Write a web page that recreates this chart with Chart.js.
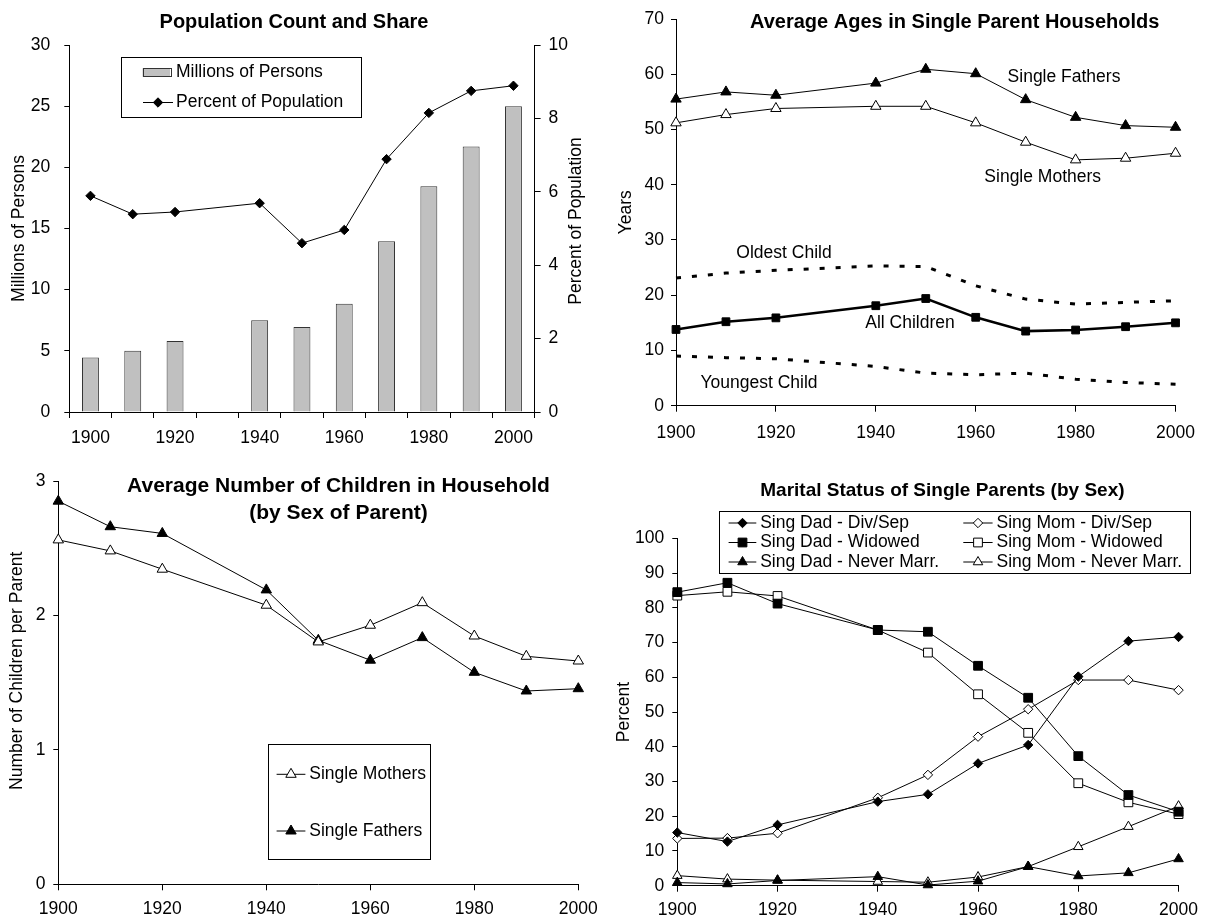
<!DOCTYPE html>
<html><head><meta charset="utf-8">
<script src="https://cdn.jsdelivr.net/npm/chart.js@4.4.1/dist/chart.umd.min.js"></script>
<style>
html,body{margin:0;padding:0;background:#fff;}
body{width:1206px;height:922px;position:relative;overflow:hidden;}
canvas{position:absolute;}
</style></head><body>
<canvas id="c1" width="600" height="460" style="left:0;top:0"></canvas>
<canvas id="c2" width="606" height="460" style="left:600px;top:0"></canvas>
<canvas id="c3" width="620" height="462" style="left:0;top:460px"></canvas>
<canvas id="c4" width="606" height="462" style="left:600px;top:460px"></canvas>
<script>
// ---------- DATA ----------
const popYears = ['1900','1910','1920','1930','1940','1950','1960','1970','1980','1990','2000'];
const popMillions = [4.45, 5.0, 5.8, null, 7.5, 6.95, 8.85, 13.95, 18.45, 21.7, 25.0];
const popPercent  = [5.89, 5.39, 5.45, null, 5.69, 4.6, 4.96, 6.89, 8.15, 8.75, 8.89];

const years = [1900, 1910, 1920, 1940, 1950, 1960, 1970, 1980, 1990, 2000];
const yearTicks = [1900, 1920, 1940, 1960, 1980, 2000];

const ageFathers  = [55.5, 56.8, 56.2, 58.4, 60.9, 60.1, 55.4, 52.2, 50.7, 50.4];
const ageMothers  = [51.2, 52.7, 53.8, 54.2, 54.2, 51.2, 47.7, 44.5, 44.8, 45.7];
const ageOldest   = [23.1, 24.0, 24.5, 25.3, 25.2, 21.7, 19.3, 18.4, 18.7, 19.0];
const ageAll      = [13.8, 15.2, 15.9, 18.1, 19.4, 16.0, 13.5, 13.7, 14.3, 15.0];
const ageYoungest = [9.0, 8.7, 8.5, 7.1, 5.9, 5.6, 5.9, 4.8, 4.2, 3.9];

const kidsMothers = [2.562, 2.48, 2.344, 2.076, 1.803, 1.927, 2.095, 1.847, 1.696, 1.661];
const kidsFathers = [2.85, 2.66, 2.61, 2.19, 1.815, 1.667, 1.835, 1.577, 1.438, 1.455];

const dadDivSep   = [15.3, 12.7, 17.5, 24.2, 26.3, 35.2, 40.5, 60.2, 70.4, 71.6];
const momDivSep   = [13.6, 13.7, 15.1, 25.3, 31.9, 42.9, 50.8, 59.2, 59.2, 56.3];
const dadWidowed  = [84.5, 87.2, 81.2, 73.6, 73.1, 63.3, 54.1, 37.3, 26.1, 21.3];
const momWidowed  = [83.5, 84.6, 83.4, 73.6, 67.1, 55.1, 44.0, 29.5, 24.0, 20.6];
const dadNever    = [0.9, 0.5, 1.5, 2.6, 0.2, 1.3, 5.5, 2.8, 3.7, 7.7];
const momNever    = [2.9, 1.9, 1.6, 1.2, 1.0, 2.5, 5.5, 11.2, 17.0, 22.9];

// ---------- STYLE ----------
const FONT = "'Liberation Sans', Arial, Helvetica, sans-serif";
const TXT = 17.5;
Chart.defaults.font.family = FONT;
Chart.defaults.font.size = TXT;
Chart.defaults.color = '#000';
Chart.defaults.animation = false;
Chart.defaults.plugins.legend.display = false;
Chart.defaults.plugins.tooltip.enabled = false;

const pts = vals => years.map((y, i) => ({x: y, y: vals[i]}));

function textPlugin(items) {
  return { id: 'texts', afterDraw(chart) {
    const ctx = chart.ctx;
    items.forEach(t => {
      ctx.save();
      ctx.fillStyle = '#000'; ctx.textBaseline = 'middle';
      ctx.font = (t.bold ? 'bold ' : '') + t.size + 'px ' + FONT;
      ctx.textAlign = t.align || 'center';
      ctx.translate(t.x, t.y);
      if (t.rotate) ctx.rotate(t.rotate);
      ctx.fillText(t.text, 0, 0);
      ctx.restore();
    });
  }};
}

function legendPlugin(box, entries) {
  return { id: 'customLegend', afterDraw(chart) {
    const ctx = chart.ctx; ctx.save();
    ctx.fillStyle = '#fff';
    ctx.fillRect(box.x0, box.y0, box.x1 - box.x0, box.y1 - box.y0);
    ctx.strokeStyle = '#000'; ctx.lineWidth = 1;
    ctx.strokeRect(Math.round(box.x0) + 0.5, Math.round(box.y0) + 0.5, Math.round(box.x1 - box.x0), Math.round(box.y1 - box.y0));
    entries.forEach(e => {
      const ds = chart.data.datasets[e.ds];
      if (e.swatch) {
        ctx.fillStyle = ds.backgroundColor;
        ctx.fillRect(e.lx0, e.y - 4.25, e.lx1 - e.lx0, 8.5);
        ctx.strokeStyle = ds.borderColor; ctx.lineWidth = 1;
        ctx.strokeRect(Math.round(e.lx0) + 0.5, Math.round(e.y - 4.25) + 0.5, Math.round(e.lx1 - e.lx0), 8);
      } else {
        ctx.strokeStyle = ds.borderColor; ctx.lineWidth = ds.borderWidth;
        ctx.beginPath(); ctx.moveTo(e.lx0, e.y); ctx.lineTo(e.lx1, e.y); ctx.stroke();
        ctx.fillStyle = ds.pointBackgroundColor; ctx.strokeStyle = ds.pointBorderColor;
        ctx.lineWidth = ds.pointBorderWidth || 1;
        Chart.helpers.drawPoint(ctx, {pointStyle: ds.pointStyle, radius: ds.pointRadius, rotation: 0, borderWidth: ds.pointBorderWidth || 1}, e.mx, e.y);
      }
      ctx.fillStyle = '#000'; ctx.font = TXT + 'px ' + FONT;
      ctx.textAlign = 'left'; ctx.textBaseline = 'middle';
      ctx.fillText(ds.label, e.tx, e.y);
    });
    ctx.restore();
  }};
}

function xLinear(height, pad) {
  return { type: 'linear', min: 1900, max: 2000,
    afterFit(s) { s.height = height; },
    afterBuildTicks(s) { s.ticks = yearTicks.map(v => ({value: v})); },
    ticks: { padding: pad, maxRotation: 0, callback: v => String(v) },
    grid: { drawOnChartArea: false, drawTicks: true, tickLength: 6, color: '#000' },
    border: { color: '#000', width: 1 } };
}
function yAxis(width, min, max, step, pad, title, titlePad) {
  return { min, max,
    afterFit(s) { s.width = width; },
    ticks: { stepSize: step, padding: pad },
    grid: { drawOnChartArea: false, drawTicks: true, tickLength: 5, color: '#000' },
    border: { color: '#000', width: 1 },
    title: { display: true, text: title, padding: {top: titlePad, bottom: 0}, font: {size: TXT} } };
}
function lineDs(label, vals, opts) {
  return Object.assign({ label, data: pts(vals), borderColor: '#000', borderWidth: 1,
    pointStyle: 'triangle', pointRadius: 6, pointBackgroundColor: '#000', pointBorderColor: '#000',
    pointBorderWidth: 1, clip: false, tension: 0 }, opts);
}

// ---------- CHART 1 ----------
new Chart(document.getElementById('c1'), {
  type: 'bar',
  data: { labels: popYears, datasets: [
    { type: 'bar', label: 'Millions of Persons', data: popMillions, backgroundColor: '#c0c0c0',
      borderColor: '#333', borderWidth: 1, yAxisID: 'y', barPercentage: 0.4, categoryPercentage: 1, order: 2 },
    { type: 'line', label: 'Percent of Population', data: popPercent, borderColor: '#000', borderWidth: 1,
      pointStyle: 'rectRot', pointRadius: 4.7, pointBackgroundColor: '#000', pointBorderColor: '#000',
      pointBorderWidth: 1, yAxisID: 'y1', spanGaps: true, clip: false, order: 1 }
  ]},
  options: {
    responsive: false, devicePixelRatio: 1,
    layout: { padding: { left: 0, top: 45, right: 5.4, bottom: 8 } },
    scales: {
      x: { type: 'category', offset: true,
        afterFit(s) { s.height = 40; },
        ticks: { autoSkip: false, maxRotation: 0, padding: 10, callback: (v, i) => (i % 2 === 0 ? popYears[i] : '') },
        grid: { offset: true, drawOnChartArea: false, drawTicks: true, tickLength: 6, color: '#000' },
        border: { color: '#000', width: 1 } },
      y: Object.assign(yAxis(69.3, 0, 30, 5, 14, 'Millions of Persons', 8.5), { position: 'left' }),
      y1: { position: 'right', min: 0, max: 10,
        afterFit(s) { s.width = 60; },
        ticks: { stepSize: 2, padding: 8 },
        grid: { drawOnChartArea: false, drawTicks: true, tickLength: 6, color: '#000' },
        border: { color: '#000', width: 1 },
        title: { display: false } }
    }
  },
  plugins: [
    textPlugin([
      { text: 'Population Count and Share', x: 294, y: 22, size: 20, bold: true },
      { text: 'Percent of Population', x: 576, y: 221, size: TXT, rotate: -Math.PI / 2 }
    ]),
    legendPlugin({x0: 121, y0: 57, x1: 361, y1: 117}, [
      { ds: 0, swatch: true, lx0: 142.5, lx1: 170, y: 72.5, tx: 176 },
      { ds: 1, lx0: 143, lx1: 173, mx: 158, y: 102.5, tx: 176 }
    ])
  ]
});

// ---------- CHART 2 ----------
new Chart(document.getElementById('c2'), {
  type: 'line',
  data: { datasets: [
    lineDs('Single Fathers', ageFathers, {}),
    lineDs('Single Mothers', ageMothers, { pointBackgroundColor: '#fff' }),
    lineDs('Oldest Child', ageOldest, { borderWidth: 3, borderDash: [5, 11], pointRadius: 0 }),
    lineDs('All Children', ageAll, { borderWidth: 2.5, pointStyle: 'rect', pointRadius: 5.5 }),
    lineDs('Youngest Child', ageYoungest, { borderWidth: 3, borderDash: [5, 11], pointRadius: 0 })
  ]},
  options: {
    responsive: false, devicePixelRatio: 1,
    layout: { padding: { left: 0, top: 19, right: 22, bottom: 14.3 } },
    scales: { x: xLinear(40, 11), y: yAxis(76, 0, 70, 10, 7, 'Years', 15.5) }
  },
  plugins: [ textPlugin([
    { text: 'Average Ages in Single Parent Households', x: 354.7, y: 22, size: 20, bold: true },
    { text: 'Single Fathers', x: 464, y: 76.7, size: TXT },
    { text: 'Single Mothers', x: 442.7, y: 176.7, size: TXT },
    { text: 'Oldest Child', x: 184, y: 253.3, size: TXT },
    { text: 'All Children', x: 310, y: 322.7, size: TXT },
    { text: 'Youngest Child', x: 159, y: 383.3, size: TXT }
  ]) ]
});

// ---------- CHART 3 ----------
new Chart(document.getElementById('c3'), {
  type: 'line',
  data: { datasets: [
    lineDs('Single Mothers', kidsMothers, { pointBackgroundColor: '#fff' }),
    lineDs('Single Fathers', kidsFathers, {})
  ]},
  options: {
    responsive: false, devicePixelRatio: 1,
    layout: { padding: { left: 0, top: 21, right: 41.7, bottom: 7.7 } },
    scales: { x: xLinear(30, 8), y: Object.assign(yAxis(58.3, 0, 3, 1, 7.7, '', 0), { title: { display: false } }) }
  },
  plugins: [
    textPlugin([
      { text: 'Average Number of Children in Household', x: 338.5, y: 26.7, size: 21, bold: true },
      { text: '(by Sex of Parent)', x: 338.5, y: 53.3, size: 21, bold: true },
      { text: 'Number of Children per Parent', x: 17.2, y: 210.8, size: TXT, rotate: -Math.PI / 2 }
    ]),
    legendPlugin({x0: 268, y0: 284.3, x1: 430, y1: 399.3}, [
      { ds: 0, lx0: 276.6, lx1: 305.4, mx: 291, y: 314.3, tx: 309.3 },
      { ds: 1, lx0: 276.6, lx1: 305.4, mx: 291, y: 371, tx: 309.3 }
    ])
  ]
});

// ---------- CHART 4 ----------
new Chart(document.getElementById('c4'), {
  type: 'line',
  data: { datasets: [
    lineDs('Sing Dad - Div/Sep', dadDivSep, { pointStyle: 'rectRot', pointRadius: 4.7 }),
    lineDs('Sing Mom - Div/Sep', momDivSep, { pointStyle: 'rectRot', pointRadius: 4.7, pointBackgroundColor: '#fff' }),
    lineDs('Sing Dad - Widowed', dadWidowed, { pointStyle: 'rect', pointRadius: 6.2 }),
    lineDs('Sing Mom - Widowed', momWidowed, { pointStyle: 'rect', pointRadius: 6.2, pointBackgroundColor: '#fff' }),
    lineDs('Sing Dad - Never Marr.', dadNever, { pointRadius: 5.5 }),
    lineDs('Sing Mom - Never Marr.', momNever, { pointRadius: 5.5, pointBackgroundColor: '#fff' })
  ]},
  options: {
    responsive: false, devicePixelRatio: 1,
    layout: { padding: { left: 0, top: 78.3, right: 23.7, bottom: 6.3 } },
    scales: { x: xLinear(30, 8), y: yAxis(77.3, 0, 100, 10, 8, 'Percent', 13.8) }
  },
  plugins: [
    textPlugin([{ text: 'Marital Status of Single Parents (by Sex)', x: 342.4, y: 30.7, size: 19, bold: true }]),
    legendPlugin({x0: 118.5, y0: 50.7, x1: 589.2, y1: 112.7}, [
      { ds: 0, lx0: 128.6, lx1: 156.3, mx: 142.5, y: 63, tx: 160.2 },
      { ds: 2, lx0: 128.6, lx1: 156.3, mx: 142.5, y: 82.5, tx: 160.2 },
      { ds: 4, lx0: 128.6, lx1: 156.3, mx: 142.5, y: 102, tx: 160.2 },
      { ds: 1, lx0: 363.3, lx1: 392.6, mx: 378, y: 63, tx: 396.5 },
      { ds: 3, lx0: 363.3, lx1: 392.6, mx: 378, y: 82.5, tx: 396.5 },
      { ds: 5, lx0: 363.3, lx1: 392.6, mx: 378, y: 102, tx: 396.5 }
    ])
  ]
});
</script>
</body></html>
